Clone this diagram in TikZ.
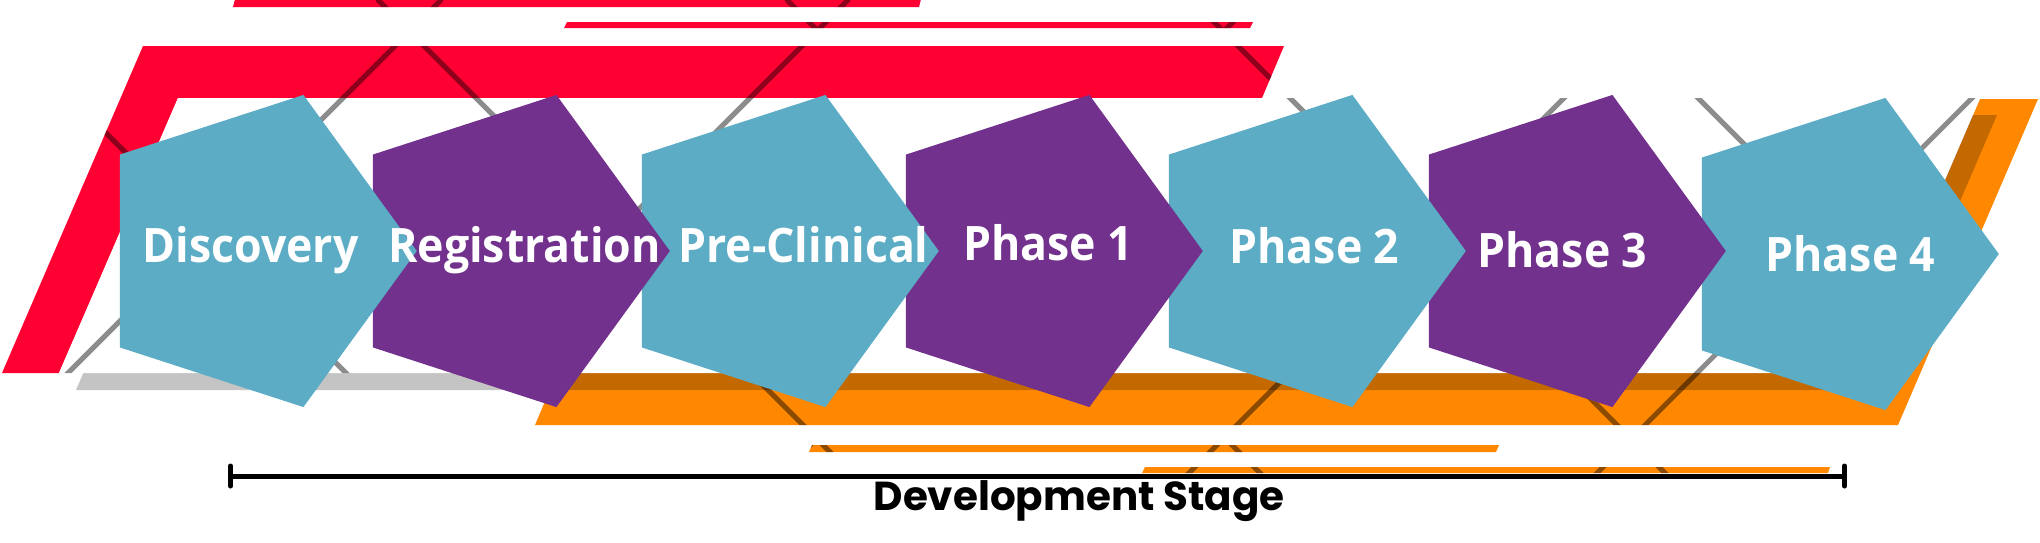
\documentclass[tikz,border=0pt]{standalone}
\usepackage{fontspec}
\newfontfamily\stagefont{Open Sans}[FakeStretch=0.94]
\newfontfamily\axisfont{Poppins}
\usetikzlibrary{shapes.geometric, arrows.meta}
\definecolor{stagecyan}{HTML}{5BACC4}
\definecolor{stagepurple}{HTML}{73318E}
\definecolor{framered}{HTML}{FF0033}
\definecolor{frameorange}{HTML}{FF8800}
\tikzset{
  stage/.style={regular polygon, regular polygon sides=5, rotate=-90, minimum size=3.28cm, inner sep=0pt},
  tealstage/.style={stage, fill=stagecyan},
  plumstage/.style={stage, fill=stagepurple},
  stagetext/.style={text=white, inner sep=0pt, anchor=base, font=\stagefont\bfseries\fontsize{13.5}{16}\selectfont},
  lattice/.style={black, opacity=0.45, line width=0.05cm, line cap=round},
  redframe/.style={insert path={(143,46) -- (1284,46) -- (1262,98) -- (178,98) -- (59,373) -- (2,373) -- cycle}},
  orangeframe/.style={insert path={(535,425) -- (1898,425) -- (2038,99) -- (1980,99) -- (1862,373) -- (557,373) -- cycle}},
  panelframe/.style={insert path={(178,98) -- (1980,98) -- (1862,373) -- (59,373) -- cycle}},
  redbars/.style={insert path={(236,-5) -- (922,-5) -- (919,7) -- (233,7) -- cycle
    (567,22) -- (1253,22) -- (1250,28) -- (564,28) -- cycle}},
  orangebars/.style={insert path={(812,445) -- (1499,445) -- (1496,452) -- (809,452) -- cycle
    (1145,467) -- (1830,467) -- (1828,473) -- (1142,473) -- cycle}}
}
\begin{document}
\begin{tikzpicture}[x=0.01cm, y=-0.01cm]
\useasboundingbox (0,0) rectangle (2040,542);
\clip (0,0) rectangle (2040,542);
\fill[framered, redbars];
\fill[framered, redframe];
\fill[frameorange, orangebars];
\fill[frameorange, orangeframe];
\fill[black, opacity=0.23] (195,115) -- (1997,115) -- (1879,390) -- (76,390) -- cycle;
\fill[white, panelframe];
\begin{scope}
\clip[redframe, orangeframe, panelframe, redbars, orangebars];
\draw[lattice] (441,0) -- (0,441)
  (0,27) -- (450,477)
  (378,0) -- (900,522)
  (848,0) -- (380,468)
  (787,0) -- (818,31)
  (1224,437) -- (1300,513)
  (817,438) -- (760,495)
  (1255,0) -- (1224,31)
  (1192,0) -- (1720,528)
  (1631,31) -- (1150,512)
  (1631,31) -- (2040,440)
  (2040,30) -- (1580,490);
\end{scope}
\node[tealstage] (phase4) at (1834.7,254) {};
\node[plumstage] (phase3) at (1561.7,251) {};
\node[tealstage] (phase2) at (1301.7,251) {};
\node[plumstage] (phase1) at (1038.7,251) {};
\node[tealstage] (preclinical) at (774.7,251) {};
\node[plumstage] (registration) at (505.7,251) {};
\node[tealstage] (discovery) at (252.7,251) {};
\node[stagetext] (discoverytxt) at (250.5,262) {Discovery};
\node[stagetext] (registrationtxt) at (524.5,262) {Registration};
\node[stagetext] (preclinicaltxt) at (803.5,262) {Pre-Clinical};
\node[stagetext] (phase1txt) at (1048,260) {Phase 1};
\node[stagetext] (phase2txt) at (1314.5,263) {Phase 2};
\node[stagetext] (phase3txt) at (1562.5,267) {Phase 3};
\node[stagetext] (phase4txt) at (1850.5,271) {Phase 4};
\coordinate (devstart) at (228,476);
\coordinate (devend) at (1847,476);
\draw[line width=0.05cm, {Bar[width=0.2cm, round]}-{Bar[width=0.2cm, round]}] (devstart) -- (devend);
\node[inner sep=0pt, anchor=base, font=\axisfont\bfseries\fontsize{11.5}{13}\selectfont] (devlabel) at (1079,510) {Development Stage};
\end{tikzpicture}
\end{document}
